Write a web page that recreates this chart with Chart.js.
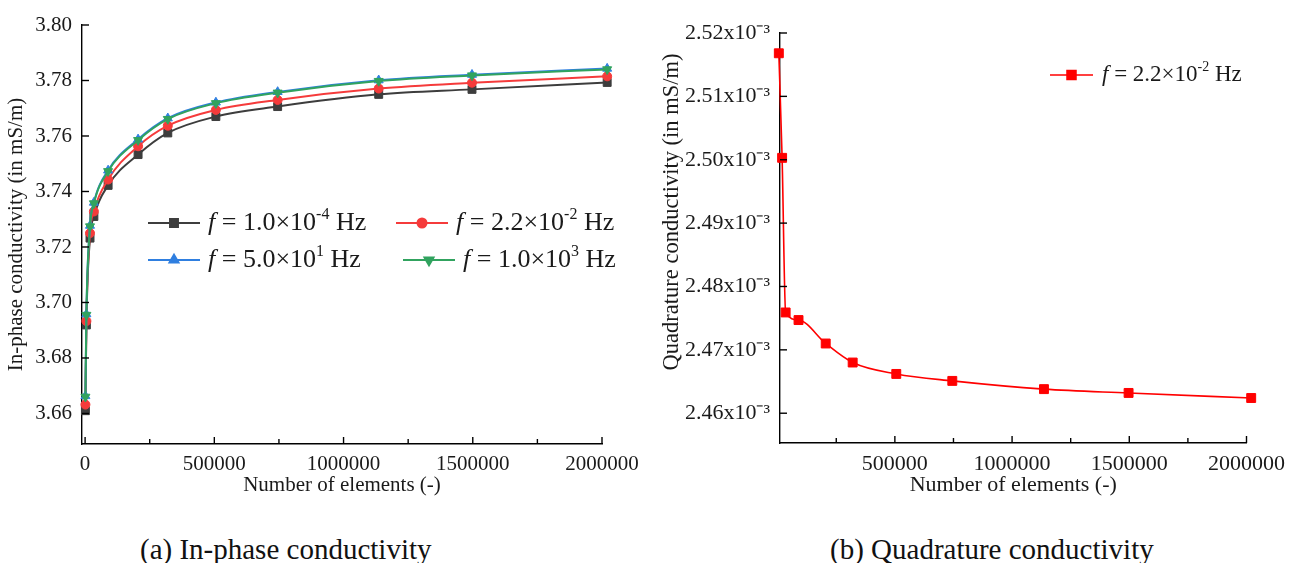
<!DOCTYPE html>
<html>
<head>
<meta charset="utf-8">
<script src="https://cdn.jsdelivr.net/npm/chart.js@4.4.0/dist/chart.umd.min.js"></script>
<style>
  body { margin: 0; background: #fff; width: 1293px; height: 563px; overflow: hidden; position: relative; font-family: "Liberation Serif", serif; }
  .painel { position: absolute; top: 0; height: 505px; }
  .legenda { position: absolute; top: 535px; font-size: 29px; line-height: 29px; color: #111; white-space: nowrap; }
</style>
</head>
<body>
<div class="painel" style="left:0;width:650px"><canvas id="graficoA" width="650" height="505"></canvas></div>
<div class="painel" style="left:650px;width:643px"><canvas id="graficoB" width="643" height="505"></canvas></div>
<div class="legenda" style="left:140px">(a) In-phase conductivity</div>
<div class="legenda" style="left:830px">(b) Quadrature conductivity</div>
<script>
// numero de elementos da malha (eixo x)
const elementos = [1200, 5000, 19000, 34000, 89000, 205000, 320000, 506000, 745000, 1136000, 1497000, 2020000];

// condutividade em fase (mS/m) para cada frequencia
const emFase1 = [3.6610, 3.6919, 3.7232, 3.7310, 3.7422, 3.7533, 3.7611, 3.7670, 3.7706, 3.7750, 3.7768, 3.7793];
const emFase2 = [3.6632, 3.6933, 3.7250, 3.7328, 3.7443, 3.7563, 3.7637, 3.7694, 3.7730, 3.7771, 3.7792, 3.7815];
const emFase3 = [3.6663, 3.6958, 3.7277, 3.7360, 3.7476, 3.7588, 3.7664, 3.7721, 3.7759, 3.7801, 3.7821, 3.7843];
const emFase4 = [3.6660, 3.6955, 3.7274, 3.7357, 3.7473, 3.7585, 3.7661, 3.7718, 3.7756, 3.7798, 3.7818, 3.7840];

// condutividade em quadratura (mS/m), f = 2.2x10^-2 Hz (sem a malha mais grossa)
const elementosQuad = [5000, 19000, 34000, 89000, 205000, 320000, 506000, 745000, 1136000, 1497000, 2020000];
const quadratura = [2.5168e-3, 2.5003e-3, 2.4759e-3, 2.4747e-3, 2.4710e-3, 2.4680e-3, 2.4662e-3, 2.4651e-3, 2.4638e-3, 2.4632e-3, 2.4624e-3];

// legendas das frequencias
const freqMantissa = ["1.0", "2.2", "5.0", "1.0"];
const freqExpoente = ["-4", "-2", "1", "3"];

// marcas dos eixos
const ticksXA = [0, 250000, 500000, 750000, 1000000, 1250000, 1500000, 1750000, 2000000];
const ticksXB = [250000, 500000, 750000, 1000000, 1250000, 1500000, 1750000, 2000000];
const ticksYA = [3.66, 3.68, 3.70, 3.72, 3.74, 3.76, 3.78, 3.80];
const ticksYB = [2.46e-3, 2.47e-3, 2.48e-3, 2.49e-3, 2.50e-3, 2.51e-3, 2.52e-3];

const fonte = "Liberation Serif";
const corTexto = "#1a1a1a";

function pontos(xs, ys) {
    return xs.map((x, i) => ({ x: x, y: ys[i] }));
}

// ticks para dentro do grafico, como no original
const ticksInternos = {
    id: "ticksInternos",
    afterDraw(chart) {
        const ctx = chart.ctx;
        const area = chart.chartArea;
        const sx = chart.scales.x;
        const sy = chart.scales.y;
        ctx.save();
        ctx.strokeStyle = "#000";
        ctx.lineWidth = 1.4;
        sx.ticks.forEach(t => {
            let px = sx.getPixelForValue(t.value);
            let len = t.value % 500000 === 0 ? 7 : 5;
            ctx.beginPath();
            ctx.moveTo(px, area.bottom);
            ctx.lineTo(px, area.bottom - len);
            ctx.stroke();
        });
        sy.ticks.forEach(t => {
            let py = sy.getPixelForValue(t.value);
            ctx.beginPath();
            ctx.moveTo(area.left, py);
            ctx.lineTo(area.left + 7, py);
            ctx.stroke();
        });
        ctx.restore();
    }
};

// titulo do eixo y desenhado a mao (no original ele nao fica centrado)
const tituloY = {
    id: "tituloY",
    afterDraw(chart, args, opts) {
        if (!opts.texto) return;
        const ctx = chart.ctx;
        ctx.save();
        ctx.translate(opts.x, opts.y);
        ctx.rotate(-Math.PI / 2);
        ctx.fillStyle = corTexto;
        ctx.font = opts.tam + "px '" + fonte + "'";
        ctx.textAlign = "center";
        ctx.textBaseline = "middle";
        ctx.fillText(opts.texto, 0, 0);
        ctx.restore();
    }
};

// legenda desenhada no canvas (f em italico, expoente sobrescrito)
const legendaCustom = {
    id: "legendaCustom",
    afterDraw(chart, args, opts) {
        const ctx = chart.ctx;
        opts.itens.forEach(item => {
            const ds = chart.data.datasets[item.ds];
            ctx.save();
            ctx.strokeStyle = ds.borderColor;
            ctx.lineWidth = ds.borderWidth;
            ctx.beginPath();
            ctx.moveTo(item.x, item.y);
            ctx.lineTo(item.x + opts.comp, item.y);
            ctx.stroke();
            ctx.fillStyle = ds.pointBackgroundColor;
            ctx.strokeStyle = ds.pointBackgroundColor;
            Chart.helpers.drawPoint(ctx, {
                pointStyle: ds.pointStyle,
                radius: ds.pointRadius,
                rotation: ds.pointRotation || 0,
                borderWidth: 1
            }, item.x + opts.comp / 2, item.y);

            let x = item.x + opts.comp + opts.gap;
            ctx.fillStyle = corTexto;
            ctx.textBaseline = "middle";
            ctx.textAlign = "left";
            ctx.font = "italic " + opts.tam + "px '" + fonte + "'";
            ctx.fillText("f", x, item.y);
            x += ctx.measureText("f").width;
            ctx.font = opts.tam + "px '" + fonte + "'";
            let base = " = " + freqMantissa[item.f] + "\u00d710";
            ctx.fillText(base, x, item.y);
            x += ctx.measureText(base).width;
            ctx.font = Math.round(opts.tam * 0.62) + "px '" + fonte + "'";
            ctx.fillText(freqExpoente[item.f], x, item.y - opts.tam * 0.33);
            x += ctx.measureText(freqExpoente[item.f]).width;
            ctx.font = opts.tam + "px '" + fonte + "'";
            ctx.fillText(" Hz", x, item.y);
            ctx.restore();
        });
    }
};

function serie(dados, cor, estilo, raio, rotacao, ordem) {
    return {
        data: pontos(elementos, dados),
        borderColor: cor,
        backgroundColor: cor,
        pointBackgroundColor: cor,
        pointBorderColor: cor,
        borderWidth: 2,
        pointStyle: estilo,
        pointRadius: raio,
        pointRotation: rotacao,
        pointBorderWidth: 1,
        cubicInterpolationMode: "monotone",
        clip: false,
        order: ordem
    };
}

// grafico (a)
new Chart(document.getElementById("graficoA"), {
    type: "line",
    data: {
        datasets: [
            serie(emFase1, "#3d3d3d", "rect", 5.6, 0, 4),
            serie(emFase2, "#f53b3b", "circle", 4.5, 0, 3),
            serie(emFase3, "#2f7fe0", "triangle", 5.2, 0, 2),
            serie(emFase4, "#31a35f", "triangle", 5.2, 180, 1)
        ]
    },
    options: {
        responsive: false,
        animation: false,
        layout: { padding: { left: 0, top: 25, right: 48, bottom: 0 } },
        plugins: {
            legend: { display: false },
            tooltip: { enabled: false },
            tituloY: {},
            legendaCustom: {
                comp: 52, gap: 8, tam: 26,
                itens: [
                    { ds: 0, f: 0, x: 148, y: 223 },
                    { ds: 1, f: 1, x: 396, y: 223 },
                    { ds: 2, f: 2, x: 148, y: 260 },
                    { ds: 3, f: 3, x: 403, y: 260 }
                ]
            }
        },
        scales: {
            x: {
                type: "linear",
                min: -12000,
                max: 2000000,
                afterFit: s => { s.height = 61; },
                afterBuildTicks: s => { s.ticks = ticksXA.map(v => ({ value: v })); },
                grid: { drawOnChartArea: false, drawTicks: false },
                border: { display: true, color: "#000", width: 1.4 },
                ticks: {
                    autoSkip: false, maxRotation: 0, padding: 8, color: corTexto,
                    font: { family: fonte, size: 21 },
                    callback: v => (v % 500000 === 0 ? String(v) : "")
                },
                title: {
                    display: true, text: "Number of elements (-)", color: corTexto,
                    font: { family: fonte, size: 21 }, padding: { top: 0, bottom: 7 }
                }
            },
            y: {
                min: 3.649,
                max: 3.80,
                afterFit: s => { s.width = 82; },
                afterBuildTicks: s => { s.ticks = ticksYA.map(v => ({ value: v })); },
                grid: { drawOnChartArea: false, drawTicks: false },
                border: { display: true, color: "#000", width: 1.4 },
                ticks: {
                    padding: 10, color: corTexto,
                    font: { family: fonte, size: 21 },
                    callback: v => v.toFixed(2)
                },
                title: {
                    display: true, text: "In-phase conductivity (in mS/m)", color: corTexto,
                    font: { family: fonte, size: 21 }, padding: { top: 4, bottom: 0 }
                }
            }
        }
    },
    plugins: [ticksInternos, tituloY, legendaCustom]
});

// grafico (b)
const serieQuad = serie(quadratura, "#ff0000", "rect", 6.3, 0, 1);
serieQuad.data = pontos(elementosQuad, quadratura);
serieQuad.borderWidth = 1.6;

new Chart(document.getElementById("graficoB"), {
    type: "line",
    data: { datasets: [serieQuad] },
    options: {
        responsive: false,
        animation: false,
        layout: { padding: { left: 0, top: 33, right: 42, bottom: 0 } },
        plugins: {
            legend: { display: false },
            tooltip: { enabled: false },
            tituloY: { texto: "Quadrature conductivity (in mS/m)", x: 22, y: 212, tam: 22.5 },
            legendaCustom: {
                comp: 43, gap: 9, tam: 23,
                itens: [{ ds: 0, f: 1, x: 400, y: 75 }]
            }
        },
        scales: {
            x: {
                type: "linear",
                min: 10000,
                max: 2000000,
                afterFit: s => { s.height = 62; },
                afterBuildTicks: s => { s.ticks = ticksXB.map(v => ({ value: v })); },
                grid: { drawOnChartArea: false, drawTicks: false },
                border: { display: true, color: "#000", width: 1.4 },
                ticks: {
                    autoSkip: false, maxRotation: 0, padding: 8, color: corTexto,
                    font: { family: fonte, size: 22 },
                    callback: v => (v % 500000 === 0 ? String(v) : "")
                },
                title: {
                    display: true, text: "Number of elements (-)", color: corTexto,
                    font: { family: fonte, size: 22 }, padding: { top: 0, bottom: 7 }
                }
            },
            y: {
                min: 2.4553e-3,
                max: 2.52e-3,
                afterFit: s => { s.width = 130; },
                afterBuildTicks: s => { s.ticks = ticksYB.map(v => ({ value: v })); },
                grid: { drawOnChartArea: false, drawTicks: false },
                border: { display: true, color: "#000", width: 1.4 },
                ticks: {
                    padding: 10, color: corTexto,
                    font: { family: fonte, size: 22 },
                    callback: v => (v * 1000).toFixed(2) + "x10\u207b\u00b3"
                },
                title: { display: false }
            }
        }
    },
    plugins: [ticksInternos, tituloY, legendaCustom]
});
</script>
</body>
</html>
